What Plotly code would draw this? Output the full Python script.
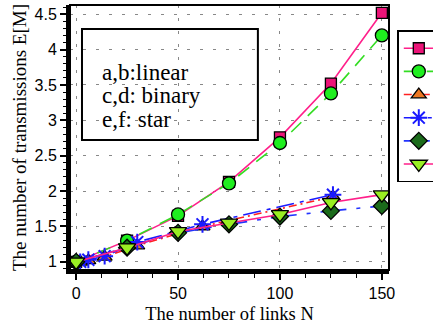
import plotly.graph_objects as go

# ---- data ----
N_ab = [0, 25, 50, 75, 100, 125, 150]
a_vals = [1.0, 1.30, 1.65, 2.13, 2.76, 3.52, 4.52]
b_vals = [1.0, 1.30, 1.67, 2.11, 2.68, 3.38, 4.20]

N_cd = [2, 6, 14, 30, 62, 126]
c_vals = [1.0, 1.02, 1.07, 1.23, 1.50, 1.92]
d_vals = [1.0, 1.03, 1.08, 1.28, 1.53, 1.95]

N_ef = [0, 25, 50, 75, 100, 125, 150]
e_vals = [1.0, 1.20, 1.41, 1.53, 1.64, 1.72, 1.79]
f_vals = [1.0, 1.20, 1.43, 1.55, 1.67, 1.84, 1.95]

names = ["a", "b", "c", "d", "e", "f"]
box_lines = ["a,b:linear", "c,d: binary", "e,f: star"]

x_ticks = [0, 50, 100, 150]
y_ticks = [1, 1.5, 2, 2.5, 3, 3.5, 4, 4.5]

SERIF = "Liberation Serif"
SANS = "Liberation Sans"

fig = go.Figure()

def add(x, y, name, sym, fill, lcolor, dash, size, mline="black", mlw=1.3):
    fig.add_trace(go.Scatter(
        x=x, y=y, name=name, mode="lines+markers",
        line=dict(color=lcolor, width=1.6, dash=dash),
        marker=dict(symbol=sym, size=size, color=fill,
                    line=dict(color=mline, width=mlw)),
    ))

add(N_ab, a_vals, names[0], "square", "#ec1478", "#ff1f8a", "solid", 11)
add(N_ab, b_vals, names[1], "circle", "#1fee1f", "#33dd22", "14px,9px", 13)
add(N_cd, c_vals, names[2], "triangle-up", "#ee7722", "#ff2020", "8px,4px,2px,4px", 13)
add(N_cd, d_vals, names[3], "asterisk-open", "#1a1aff", "#1a1aff", "18px,6px,4px,6px", 14,
    mline="#1a1aff", mlw=2)
add(N_ef, e_vals, names[4], "diamond", "#1b6b1b", "#2233ff", "26px,10px,4px,10px", 13)
add(N_ef, f_vals, names[5], "triangle-down", "#99ee22", "#ff1f8a", "solid", 15)

# annotation box
fig.add_shape(type="rect", xref="paper", yref="paper",
              x0=0.0376, x1=0.589, y0=0.491, y1=0.909,
              line=dict(color="black", width=2), fillcolor="white", layer="between")
for txt, yy in zip(box_lines, [0.747, 0.660, 0.568]):
    fig.add_annotation(text=txt, xref="paper", yref="paper", x=0.094, y=yy,
                       xanchor="left", yanchor="middle", showarrow=False,
                       font=dict(family=SERIF, size=23, color="black"))

# frame (thin top/right)
fig.add_shape(type="rect", xref="paper", yref="paper", x0=0, x1=1, y0=0, y1=1,
              line=dict(color="black", width=2), layer="above")

fig.update_layout(
    width=433, height=326,
    margin=dict(l=70, r=44, t=5, b=56, autoexpand=False),
    paper_bgcolor="white", plot_bgcolor="white",
    showlegend=True,
    legend=dict(x=1.026, y=0.905, xanchor="left", yanchor="top",
                bordercolor="black", borderwidth=1.5, bgcolor="white",
                font=dict(family=SERIF, size=15.5, color="black"),
                itemwidth=30, tracegroupgap=0),
)
fig.update_xaxes(
    range=[-3, 153.5], tickmode="array", tickvals=x_ticks,
    ticks="outside", ticklen=6, tickwidth=1.5, tickcolor="black",
    minor=dict(dtick=12.5, ticks="outside", ticklen=4, tickwidth=1, tickcolor="black", showgrid=False),
    showline=True, linecolor="black", linewidth=4,
    showgrid=True, gridcolor="#888888", gridwidth=1, griddash="3px,10px",
    zeroline=False,
    tickfont=dict(family=SANS, size=16, color="black"),
    title=dict(text="The number of links N", font=dict(family=SERIF, size=18.5, color="black"), standoff=7),
)
fig.update_yaxes(
    range=[0.885, 4.63], tickmode="array", tickvals=y_ticks,
    ticktext=[("%g" % v) for v in y_ticks],
    ticks="outside", ticklen=6, tickwidth=1.5, tickcolor="black",
    minor=dict(dtick=0.1, tick0=0, ticks="outside", ticklen=3, tickwidth=1, tickcolor="black", showgrid=False),
    showline=True, linecolor="black", linewidth=4,
    showgrid=True, gridcolor="#888888", gridwidth=1, griddash="3px,10px",
    zeroline=False,
    tickfont=dict(family=SANS, size=16, color="black"),
    title=dict(text="The number of transmissions E[M]", font=dict(family=SERIF, size=19, color="black"), standoff=4),
)

fig.write_html("out.html", config={"displayModeBar": False},
               post_script="document.body.style.margin='0px';")
